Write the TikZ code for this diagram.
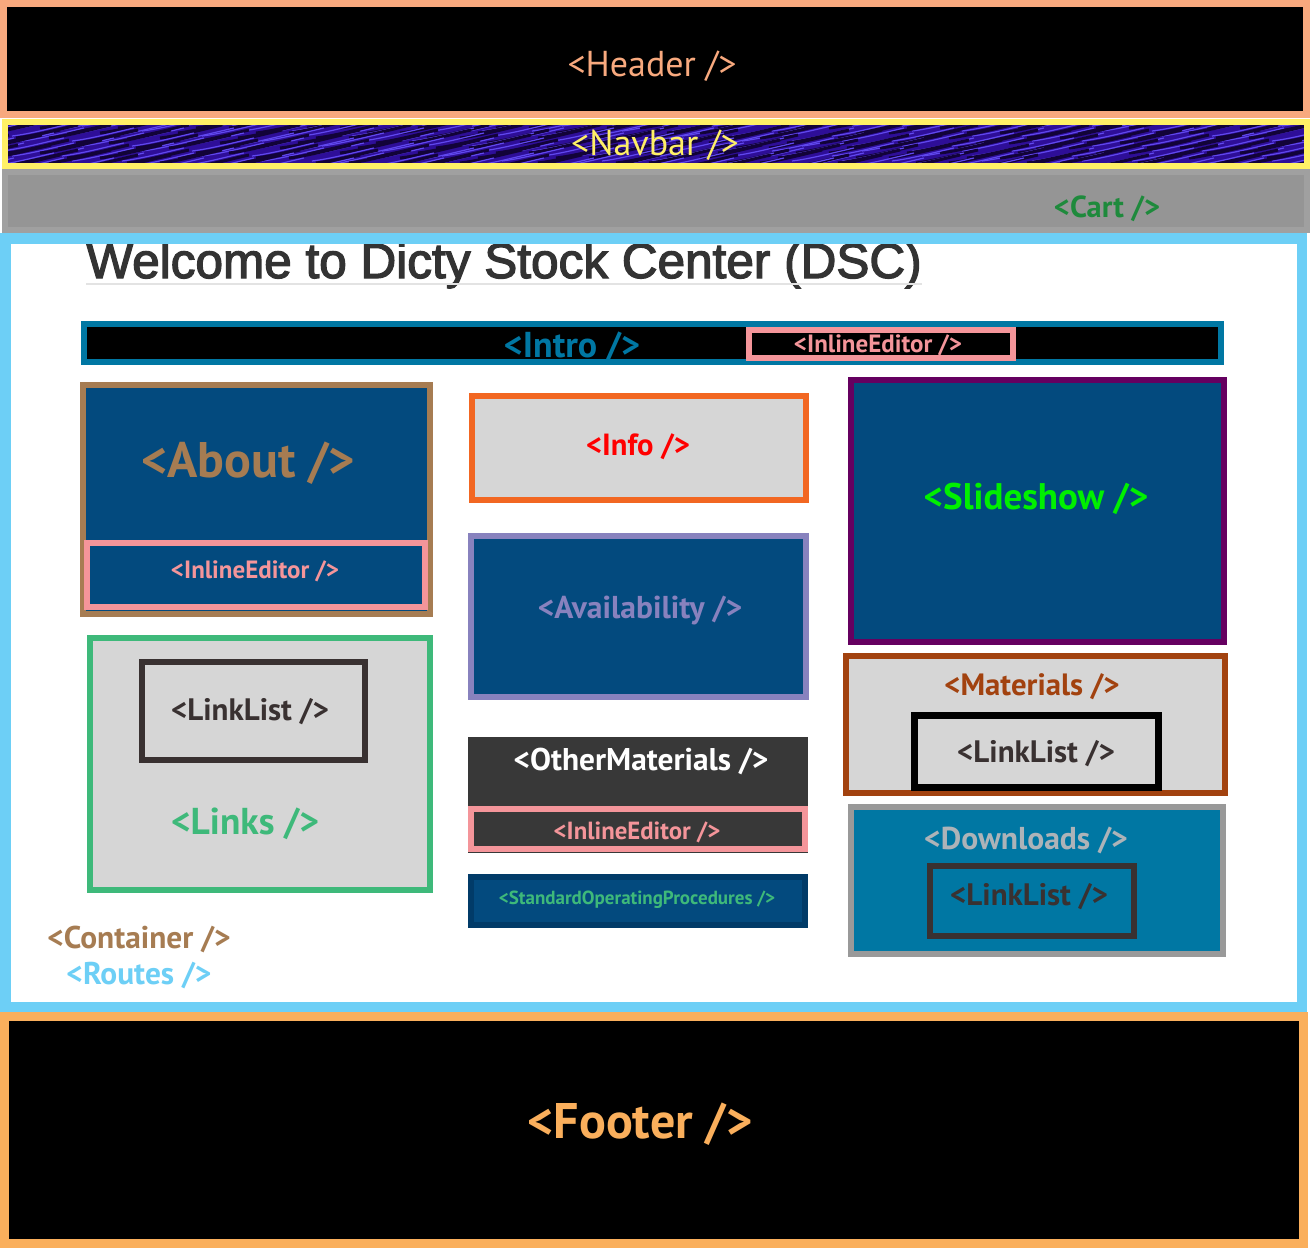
\documentclass[tikz,border=0pt]{standalone}
\usepackage{fontspec}
\setmainfont{PT Sans}
\newfontfamily\titlefont[FakeBold=2.6]{Liberation Sans}
\usetikzlibrary{fit}

\definecolor{headorange}{HTML}{F8A97E}
\definecolor{footorange}{HTML}{FAAF5C}
\definecolor{navyellow}{HTML}{FFF066}
\definecolor{navdeep}{HTML}{2E0E98}
\definecolor{navdark}{HTML}{120338}
\definecolor{navlight}{HTML}{6048EE}
\definecolor{cartedge}{HTML}{A0A0A0}
\definecolor{cartfill}{HTML}{959595}
\definecolor{cartgreen}{HTML}{1E8A3C}
\definecolor{routeblue}{HTML}{6DCFF6}
\definecolor{titlegrey}{HTML}{333333}
\definecolor{rulegrey}{HTML}{E3E3E3}
\definecolor{introteal}{HTML}{0077A3}
\definecolor{editpink}{HTML}{F4959A}
\definecolor{dscblue}{HTML}{034A7E}
\definecolor{aboutbrown}{HTML}{A67C52}
\definecolor{infoorange}{HTML}{F26722}
\definecolor{paneltint}{HTML}{D6D6D6}
\definecolor{availlilac}{HTML}{8882BE}
\definecolor{slidepurple}{HTML}{650060}
\definecolor{slidegreen}{HTML}{00F000}
\definecolor{matrust}{HTML}{A2420F}
\definecolor{listdark}{HTML}{393131}
\definecolor{dlgrey}{HTML}{999999}
\definecolor{dltext}{HTML}{ADB3B8}
\definecolor{linkgreen}{HTML}{3EB97A}
\definecolor{othergrey}{HTML}{383838}
\definecolor{sopnavy}{HTML}{013B68}

\begin{document}
\begin{tikzpicture}
	  [
	    x                   = 0.5pt,
	    y                   = -0.5pt,
	    every node/.style   = {inner sep=0pt},
	    panel/.style        = {draw, line width=3pt, inner sep=0pt},
	    tag/.style          = {anchor=base, font=\bfseries\fontsize{#1}{#1}\selectfont},
	    lighttag/.style     = {anchor=base, font=\fontsize{#1}{#1}\selectfont},
	    navwave/.style      = {navlight, line width=0.6pt},
	    navshade/.style     = {navdark, line width=1.5pt}
		]
		\useasboundingbox (0,0) rectangle (1310,1248);

		% page frame
		\node[panel, line width=3.5pt, draw=headorange, fill=black, fit={(3.5,3.5) (1306.5,114.5)}] (header) {};
		\node[lighttag=18, text=headorange] (headertxt) at (652,76) {<Header />};

		\begin{scope}
			\clip (5,121.5) rectangle (1306.5,165.5);
			\fill[navdeep] (5,121.5) rectangle (1306.5,165.5);
			\foreach \r in {0,...,10}{
				\foreach \c in {0,...,22}{
					\draw[navshade] ({\c*60-80+mod(\c*7+\r*3,5)*9},{118+\r*5}) .. controls +(18,-2) and +(-18,4) .. +(62,-13);
					\draw[navwave] ({\c*60-68+mod(\c*3+\r*5,4)*10},{121+\r*5}) .. controls +(18,-2) and +(-18,4) .. +(62,-13);
				}
			}
		\end{scope}
		\node[panel, draw=navyellow, fit={(5,121.5) (1306.5,165.5)}] (navbar) {};
		\node[lighttag=18, text=navyellow] (navbartxt) at (655,155) {<Navbar />};

		\node[panel, draw=cartedge, fill=cartfill, fit={(5,172) (1307,230)}] (cart) {};
		\node[tag=15.2, text=cartgreen] (carttxt) at (1107,217) {<Cart />};

		\fill[white] (5,238) rectangle (1302,1007);
		\node[anchor=base west, text=titlegrey, font=\titlefont\fontsize{24.75}{26}\selectfont] (title) at (86,278) {Welcome to Dicty Stock Center (DSC)};
		\draw[rulegrey, line width=1pt] ([yshift=-3pt]title.base west) -- ([yshift=-3pt]title.base east);
		\node[panel, line width=5.25pt, draw=routeblue, fit={(5.25,238.25) (1301.75,1006.75)}] (routes) {};

		\node[panel, line width=4.5pt, draw=footorange, fill=black, fit={(4.5,1016.5) (1303.5,1243.5)}] (footer) {};
		\node[tag=25, text=footorange] (footertxt) at (640,1138) {<Footer />};

		% intro
		\node[panel, draw=introteal, fill=black, fit={(84,324) (1221,362)}] (intro) {};
		\node[tag=18, text=introteal] (introtxt) at (572,357) {<Intro />};
		\node[panel, draw=editpink, fill=black, fit={(749,330) (1013,358)}] (introeditor) {};
		\node[tag=12.5, text=editpink] (introeditortxt) at (878,352) {<InlineEditor />};

		% left column
		\node[panel, draw=aboutbrown, fill=dscblue, fit={(83,385) (430,614)}] (about) {};
		\node[tag=25, text=aboutbrown] (abouttxt) at (248,477) {<About />};
		\node[panel, draw=editpink, fill=dscblue, fit={(87,543) (425,607)}] (abouteditor) {};
		\node[tag=12.5, text=editpink] (abouteditortxt) at (255,578) {<InlineEditor />};

		\node[panel, draw=linkgreen, fill=paneltint, fit={(90,638) (430,890)}] (links) {};
		\node[panel, draw=listdark, fill=paneltint, fit={(142,662) (365,760)}] (linkslist) {};
		\node[tag=15.5, text=listdark] (linkslisttxt) at (250,720) {<LinkList />};
		\node[tag=18.7, text=linkgreen] (linkstxt) at (245,834) {<Links />};

		\node[tag=15.7, text=aboutbrown] (containertxt) at (139,948) {<Container />};
		\node[tag=15.7, text=routeblue] (routestxt) at (139,984) {<Routes />};

		% middle column
		\node[panel, draw=infoorange, fill=paneltint, fit={(472,396) (806,500)}] (info) {};
		\node[tag=15.3, text=red] (infotxt) at (638,455) {<Info />};

		\node[panel, draw=availlilac, fill=dscblue, fit={(471,536) (806,697)}] (availability) {};
		\node[tag=15.8, text=availlilac] (availabilitytxt) at (640,618) {<Availability />};

		\node[fill=othergrey, fit={(468,737) (808,853)}] (othermaterials) {};
		\node[tag=15.7, text=white] (othermaterialstxt) at (641,770) {<OtherMaterials />};
		\node[panel, draw=editpink, fill=othergrey, fit={(471,809) (805,849)}] (othereditor) {};
		\node[tag=12.4, text=editpink] (othereditortxt) at (637,839) {<InlineEditor />};

		\node[panel, draw=sopnavy, fill=dscblue, fit={(471,877) (805,925)}] (sop) {};
		\node[tag=9.5, text=linkgreen] (soptxt) at (637,904) {<StandardOperatingProcedures />};

		% right column
		\node[panel, draw=slidepurple, fill=dscblue, fit={(851,380) (1224,642)}] (slideshow) {};
		\node[tag=18.5, text=slidegreen] (slideshowtxt) at (1036,509) {<Slideshow />};

		\node[panel, draw=matrust, fill=paneltint, fit={(846,656) (1225,793)}] (materials) {};
		\node[tag=15.4, text=matrust] (materialstxt) at (1032,695) {<Materials />};
		\node[panel, line width=3.5pt, draw=black, fill=paneltint, fit={(914.5,715.5) (1158.5,787.5)}] (matlist) {};
		\node[tag=15.5, text=listdark] (matlisttxt) at (1036,762) {<LinkList />};

		\node[panel, draw=dlgrey, fill=introteal, fit={(851,807) (1223,954)}] (downloads) {};
		\node[tag=15.8, text=dltext] (downloadstxt) at (1026,849) {<Downloads />};
		\node[panel, draw=listdark, fill=introteal, fit={(930,866) (1134,936)}] (dllist) {};
		\node[tag=15.5, text=listdark] (dllisttxt) at (1029,905) {<LinkList />};
	\end{tikzpicture}
\end{document}
